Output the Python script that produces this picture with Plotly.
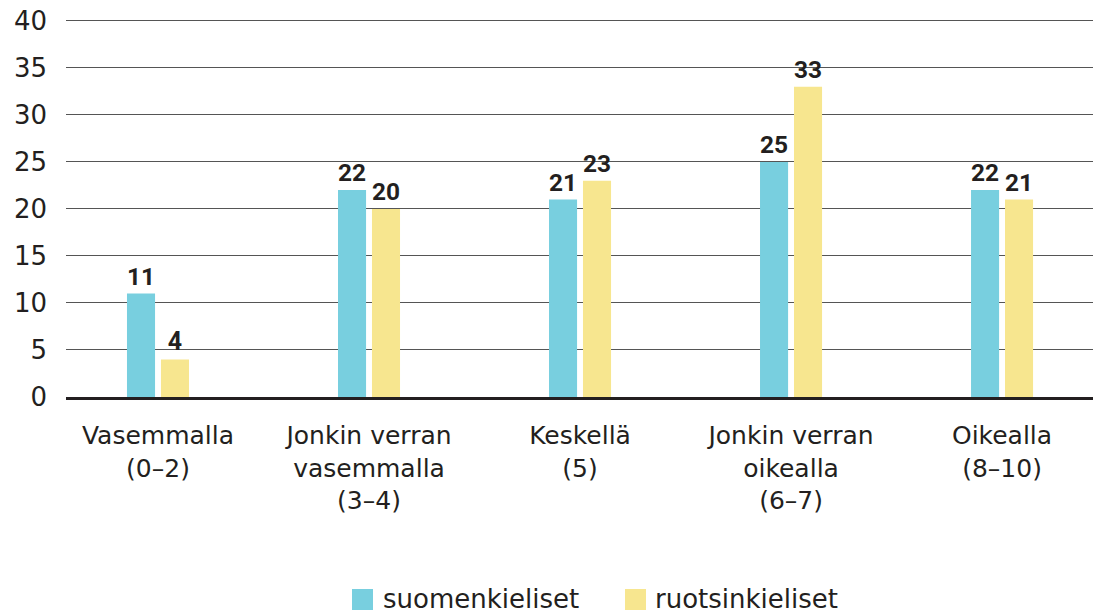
import plotly.graph_objects as go

categories = ["Vasemmalla<br>(0–2)", "Jonkin verran<br>vasemmalla<br>(3–4)", "Keskellä<br>(5)",
              "Jonkin verran<br>oikealla<br>(6–7)", "Oikealla<br>(8–10)"]
suomenkieliset = [11, 22, 21, 25, 22]
ruotsinkieliset = [4, 20, 23, 33, 21]
y_ticks = [0, 5, 10, 15, 20, 25, 30, 35, 40]
series_names = ["suomenkieliset", "ruotsinkieliset"]
series_colors = ["#78CFDF", "#F7E68F"]

FONT = "DejaVu Sans"
TXT = "#231f20"
x_idx = list(range(len(categories)))

fig = go.Figure()
for name, vals, col, off in zip(series_names, [suomenkieliset, ruotsinkieliset], series_colors, [-0.147, 0.014]):
    fig.add_trace(go.Bar(
        x=x_idx, y=vals, name=name,
        marker=dict(color=col, line=dict(width=0)),
        width=0.133, offset=off,
        text=vals, textposition="outside", cliponaxis=False,
        textfont=dict(family="Roboto", size=25, color=TXT, weight="bold"),
        showlegend=False, hoverinfo="skip",
    ))

# custom legend (paper coordinates)
PL, PB, PH = 66, 397, 379


def px_x(p):
    return (p - PL) / 1027.0


def px_y(p):
    return (PB - p) / PH


legend_items = [(352, 373, 383), (625, 646, 655)]
for (x0, x1, tx), name, col in zip(legend_items, series_names, series_colors):
    fig.add_shape(type="rect", xref="paper", yref="paper",
                  x0=px_x(x0), x1=px_x(x1), y0=px_y(589), y1=px_y(610),
                  fillcolor=col, line=dict(width=0))
    fig.add_annotation(xref="paper", yref="paper", x=px_x(tx - 2), y=px_y(599),
                       xanchor="left", yanchor="middle", text=name, showarrow=False,
                       font=dict(family=FONT, size=26, color=TXT))

fig.update_layout(
    width=1093, height=615,
    margin=dict(l=PL, r=0, t=615 - 218 - PH, b=218),
    plot_bgcolor="white", paper_bgcolor="white",
    barmode="group",
    font=dict(family=FONT, size=25, color=TXT),
    showlegend=False,
    xaxis=dict(
        tickmode="array", tickvals=x_idx, ticktext=categories,
        range=[-0.436, 4.431], showgrid=False, ticks="",
        showline=True, linecolor=TXT, linewidth=3,
        tickfont=dict(family=FONT, size=25, color=TXT),
        ticklabelstandoff=14,
        zeroline=False, automargin=False,
    ),
    yaxis=dict(
        range=[0, 40.3], tickvals=y_ticks, showgrid=True, gridcolor="#555555", gridwidth=1,
        zeroline=False, showline=False, ticks="",
        tickfont=dict(family=FONT, size=26, color=TXT),
        ticklabelstandoff=18, automargin=False,
    ),
)

fig.write_html("out.html", config={"displayModeBar": False},
               post_script="document.body.style.margin='0px';")
